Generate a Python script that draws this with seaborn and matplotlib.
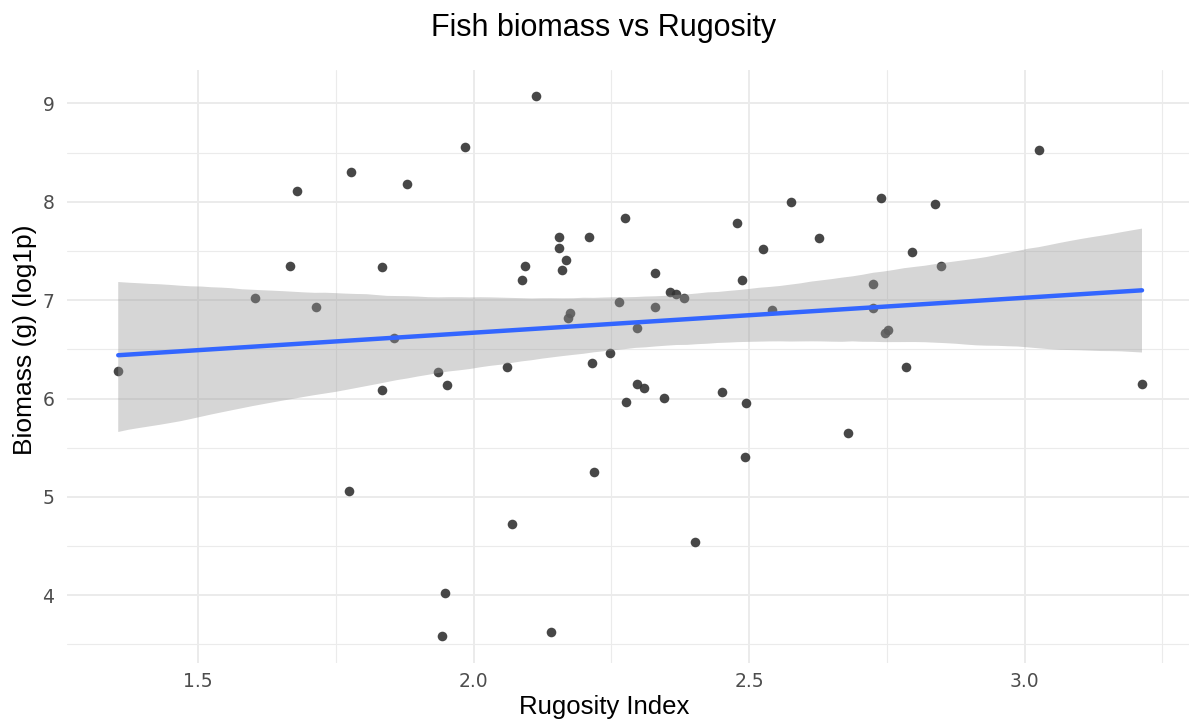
import matplotlib
matplotlib.use("Agg")
import matplotlib.pyplot as plt
import seaborn as sns
import numpy as np
import pandas as pd
from matplotlib.ticker import MultipleLocator
from matplotlib.collections import PolyCollection

rugosity = [1.680, 1.778, 1.879, 1.667, 1.833, 1.603, 1.713, 1.855, 2.113, 1.985,
            2.274, 2.155, 2.209, 2.155, 2.167, 2.094, 2.160, 2.087, 2.330, 2.478,
            2.576, 2.626, 2.525, 2.487, 2.357, 2.368, 2.381, 2.264, 2.329, 2.174,
            2.172, 2.542, 2.297, 2.248, 3.026, 2.739, 2.838, 2.796, 2.848, 2.724,
            2.724, 2.752, 2.747, 1.355, 1.833, 1.936, 1.951, 1.773, 1.948, 1.942,
            2.060, 2.214, 2.297, 2.309, 2.277, 2.345, 2.451, 2.494, 2.493, 2.219,
            2.069, 2.401, 2.140, 2.785, 3.213, 2.679]
biomass = [8.11, 8.30, 8.18, 7.35, 7.34, 7.02, 6.93, 6.62, 9.07, 8.56,
           7.83, 7.64, 7.64, 7.53, 7.41, 7.35, 7.31, 7.20, 7.28, 7.78,
           8.00, 7.63, 7.52, 7.20, 7.08, 7.06, 7.02, 6.98, 6.93, 6.87,
           6.82, 6.90, 6.72, 6.46, 8.53, 8.04, 7.98, 7.49, 7.35, 7.16,
           6.92, 6.70, 6.67, 6.28, 6.09, 6.27, 6.14, 5.06, 4.02, 3.59,
           6.32, 6.36, 6.15, 6.11, 5.96, 6.01, 6.07, 5.95, 5.41, 5.25,
           4.72, 4.54, 3.63, 6.32, 6.15, 5.65]

title = "Fish biomass vs Rugosity"
xlabel = "Rugosity Index"
ylabel = "Biomass (g) (log1p)"
x_ticks = [1.5, 2.0, 2.5, 3.0]
y_ticks = [4, 5, 6, 7, 8, 9]

df = pd.DataFrame({"rugosity": rugosity, "biomass": biomass})

sns.set_theme(style="white")
plt.rcParams['font.family'] = ['DejaVu Sans']

W, H = 1189, 722
fig = plt.figure(figsize=(W / 100, H / 100), dpi=100)
left_px, right_px, top_px, bottom_px = 67, 1189, 69.5, 662.6
ax = fig.add_axes([left_px / W, 1 - bottom_px / H,
                   (right_px - left_px) / W, (bottom_px - top_px) / H])

sns.regplot(data=df, x="rugosity", y="biomass", ax=ax, color="#999999",
            ci=95, seed=0, n_boot=2000,
            scatter_kws=dict(color="#333333", alpha=0.9, s=48, linewidths=0, zorder=1),
            line_kws=dict(color="#3366FF", lw=3.2, zorder=4))

for c in ax.collections:
    if isinstance(c, PolyCollection):
        c.set_facecolor("#999999")
        c.set_alpha(0.4)
        c.set_zorder(3)
        c.set_edgecolor("none")

ax.set_xlim(1.262, 1.262 + (right_px - left_px) / 551.0)
ax.set_ylim(3.316, 9.344)
ax.set_xticks(x_ticks)
ax.set_yticks(y_ticks)
ax.set_xticklabels([f"{t:.1f}" for t in x_ticks])
ax.set_yticklabels([str(t) for t in y_ticks])
ax.xaxis.set_minor_locator(MultipleLocator(0.25))
ax.yaxis.set_minor_locator(MultipleLocator(0.5))
ax.grid(True, which="major", color="#ebebeb", lw=1.4, zorder=0)
ax.grid(True, which="minor", color="#ebebeb", lw=0.8, zorder=0)
ax.set_axisbelow(True)
for s in ax.spines.values():
    s.set_visible(False)
ax.tick_params(axis="both", which="both", length=0, labelsize=13.5,
               labelcolor="#4d4d4d")
ax.tick_params(axis="x", pad=7)
ax.tick_params(axis="y", pad=9)
ax.set_xlabel("")
ax.set_ylabel("")

fig.text(604 / W, 1 - 28 / H, title, ha="center", va="center",
         fontsize=22, family="Liberation Sans", color="black")
fig.text(604 / W, 1 - 707 / H, xlabel, ha="center", va="center",
         fontsize=18.5, family="Liberation Sans", color="black")
fig.text(25 / W, 1 - 340 / H, ylabel, ha="center", va="center", rotation=90,
         fontsize=19, family="Liberation Sans", color="black")

fig.savefig("out.png", dpi=100, facecolor="white")
